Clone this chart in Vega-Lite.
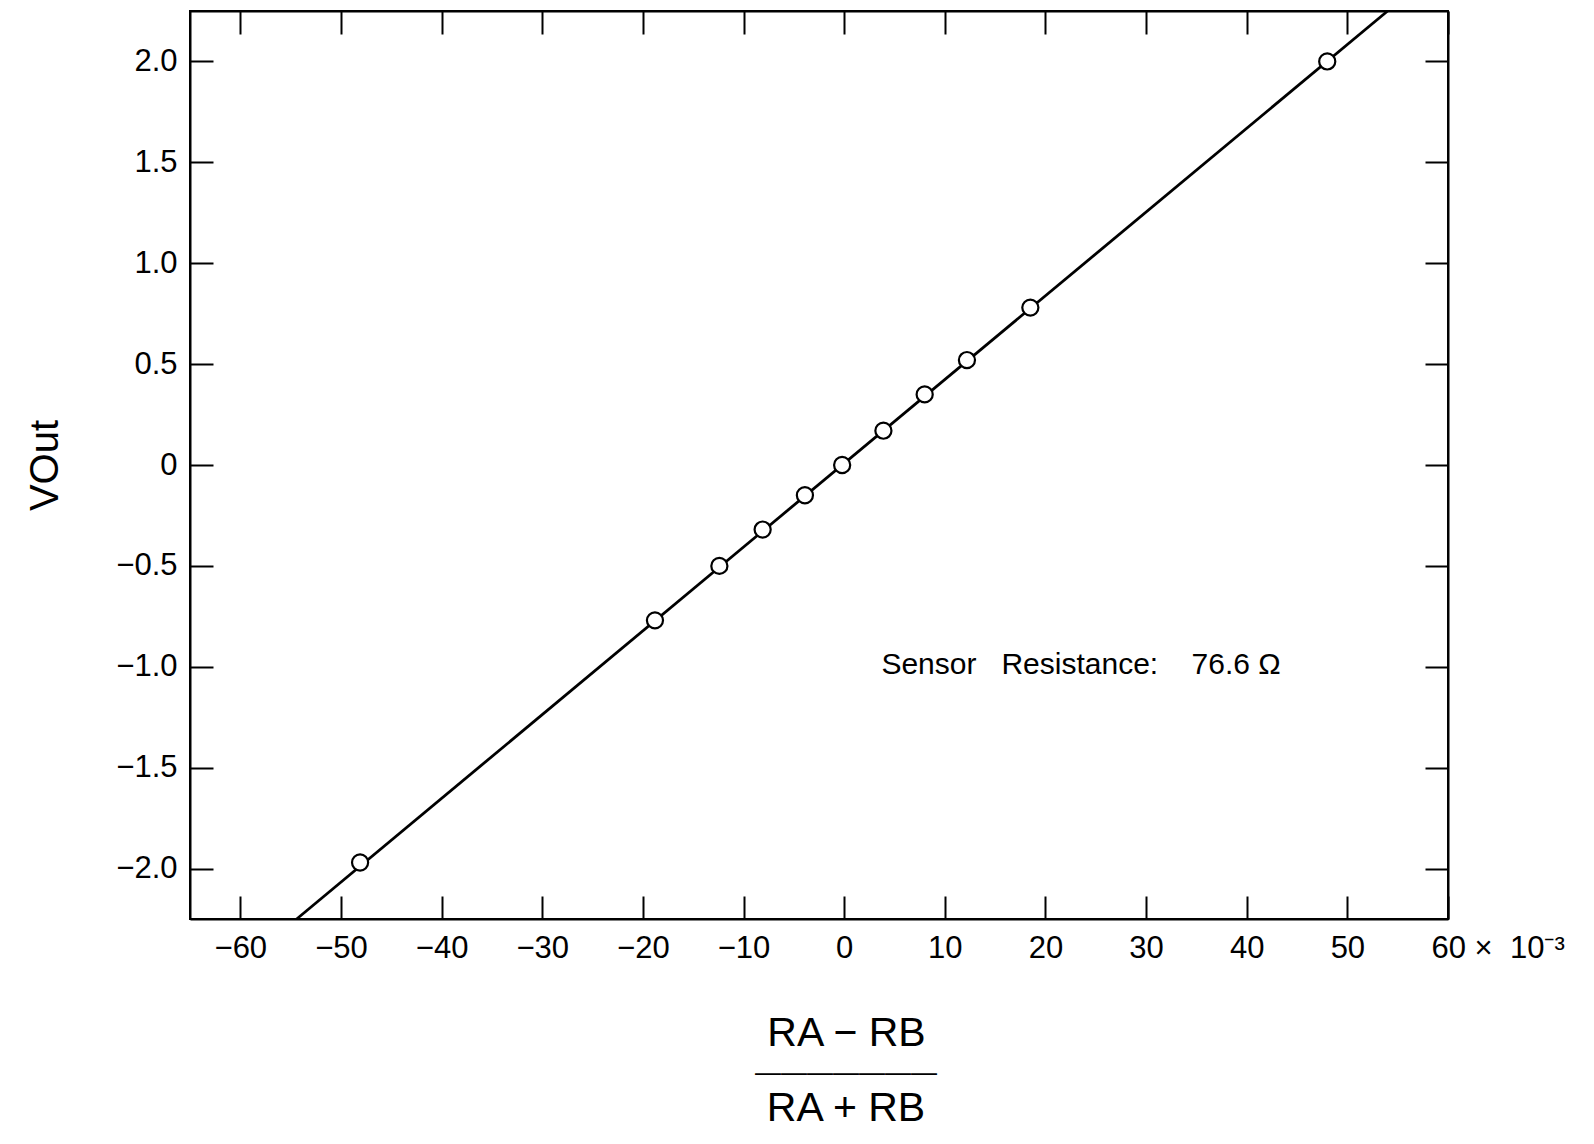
{
  "$schema": "https://vega.github.io/schema/vega-lite/v6.json",
  "width": 1258,
  "height": 908,
  "autosize": {"type": "none"},
  "padding": {"left": 190, "top": 11, "right": 146, "bottom": 225},
  "background": "white",
  "config": {
    "view": {"stroke": "black", "strokeWidth": 2},
    "font": "Liberation Sans",
    "axis": {
      "grid": false,
      "domain": true,
      "domainColor": "black",
      "domainWidth": 2,
      "tickColor": "black",
      "tickWidth": 2,
      "tickSize": -23,
      "labelFont": "Liberation Sans",
      "labelFontSize": 31,
      "labelColor": "black",
      "labelFlush": false,
      "labelOverlap": false,
      "labelBound": false,
      "titleFont": "Liberation Sans",
      "titleColor": "black",
      "titleFontWeight": "normal"
    }
  },
  "title": {
    "text": "———————",
    "subtitle": "RA + RB",
    "orient": "bottom",
    "anchor": "middle",
    "frame": "group",
    "dx": 27,
    "offset": 7,
    "font": "Liberation Sans",
    "fontSize": 26,
    "fontWeight": "normal",
    "color": "black",
    "subtitleFont": "Liberation Sans",
    "subtitleFontSize": 41,
    "subtitleColor": "black",
    "subtitlePadding": 3
  },
  "datasets": {
    "fit": [
      {"ratio": -54.4, "vout": -2.25},
      {"ratio": 54.0, "vout": 2.25}
    ],
    "measured": [
      {"ratio": -48.1, "vout": -1.97},
      {"ratio": -18.8, "vout": -0.77},
      {"ratio": -12.4, "vout": -0.50},
      {"ratio": -8.1, "vout": -0.32},
      {"ratio": -3.9, "vout": -0.15},
      {"ratio": -0.2, "vout": 0.0},
      {"ratio": 3.9, "vout": 0.17},
      {"ratio": 8.0, "vout": 0.35},
      {"ratio": 12.2, "vout": 0.52},
      {"ratio": 18.5, "vout": 0.78},
      {"ratio": 48.0, "vout": 2.0}
    ],
    "note": [
      {"ratio": 3.7, "vout": -1.035, "label": "Sensor\u00a0\u00a0\u00a0Resistance:\u00a0\u00a0\u00a0\u00a076.6\u00a0Ω"}
    ]
  },
  "resolve": {"axis": {"x": "independent", "y": "independent"}},
  "layer": [
    {
      "data": {"name": "fit"},
      "mark": {"type": "line", "color": "black", "strokeWidth": 2.8},
      "encoding": {
        "x": {
          "field": "ratio",
          "type": "quantitative",
          "scale": {"domain": [-65, 60], "nice": false, "zero": false},
          "axis": {
            "orient": "bottom",
            "values": [-60, -50, -40, -30, -20, -10, 0, 10, 20, 30, 40, 50, 60],
            "labelExpr": "datum.value == 60 ? '60\u00a0×\u00a0\u00a010⁻³' : format(datum.value, 'd')",
            "labelAlign": {"condition": {"test": "datum.value == 60", "value": "left"}, "value": "center"},
            "labelOffset": {"condition": {"test": "datum.value == 60", "value": -17}, "value": 0},
            "labelPadding": 37,
            "title": "RA − RB",
            "titleFontSize": 41,
            "titleX": 656,
            "titlePadding": 50
          }
        },
        "y": {
          "field": "vout",
          "type": "quantitative",
          "scale": {"domain": [-2.25, 2.25], "nice": false, "zero": false},
          "axis": {
            "orient": "left",
            "values": [-2, -1.5, -1, -0.5, 0, 0.5, 1, 1.5, 2],
            "labelExpr": "datum.value == 0 ? '0' : format(datum.value, '.1f')",
            "labelPadding": 36,
            "title": "VOut",
            "titleFontSize": 40,
            "titlePadding": 50
          }
        }
      }
    },
    {
      "data": {"name": "measured"},
      "mark": {"type": "point", "shape": "circle", "filled": true, "fill": "white", "stroke": "black", "strokeWidth": 2.2, "size": 260, "opacity": 1},
      "encoding": {
        "x": {
          "field": "ratio",
          "type": "quantitative",
          "axis": {
            "orient": "top",
            "values": [-60, -50, -40, -30, -20, -10, 0, 10, 20, 30, 40, 50, 60],
            "labels": false,
            "title": null
          }
        },
        "y": {
          "field": "vout",
          "type": "quantitative",
          "axis": {
            "orient": "right",
            "values": [-2, -1.5, -1, -0.5, 0, 0.5, 1, 1.5, 2],
            "labels": false,
            "title": null
          }
        }
      }
    },
    {
      "data": {"name": "note"},
      "mark": {"type": "text", "align": "left", "baseline": "alphabetic", "font": "Liberation Sans", "fontSize": 30, "color": "black"},
      "encoding": {
        "x": {"field": "ratio", "type": "quantitative", "axis": null},
        "y": {"field": "vout", "type": "quantitative", "axis": null},
        "text": {"field": "label"}
      }
    }
  ]
}
